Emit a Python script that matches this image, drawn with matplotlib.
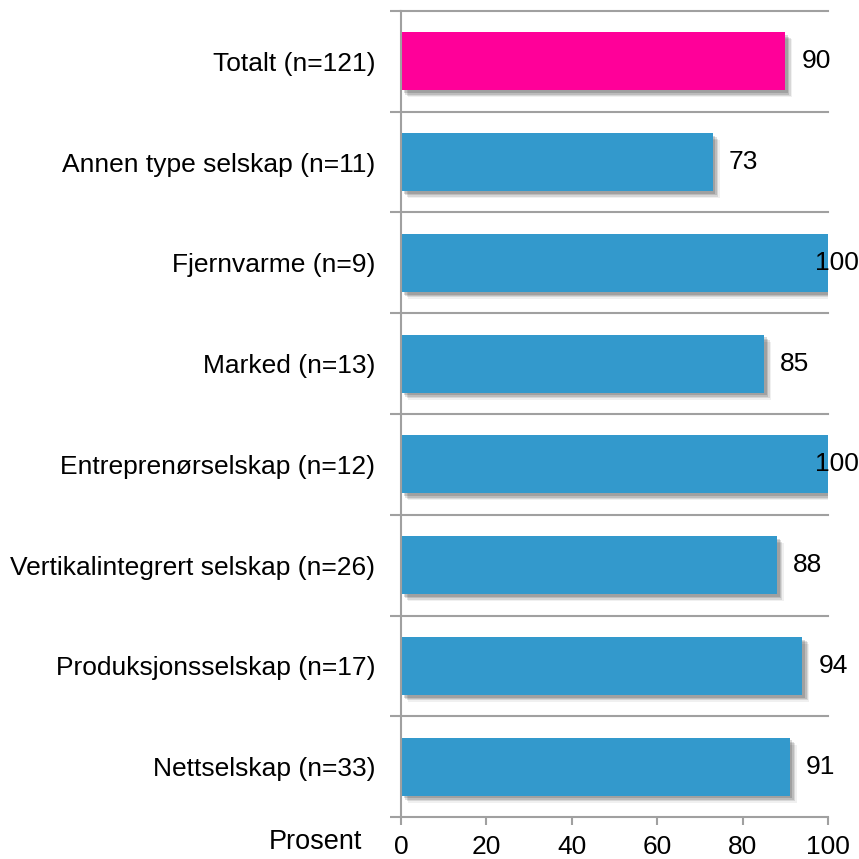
import matplotlib
matplotlib.use("Agg")
import matplotlib.pyplot as plt
import matplotlib.patheffects as pe
import numpy as np

categories = [
    "Totalt (n=121)",
    "Annen type selskap (n=11)",
    "Fjernvarme (n=9)",
    "Marked (n=13)",
    "Entreprenørselskap (n=12)",
    "Vertikalintegrert selskap (n=26)",
    "Produksjonsselskap (n=17)",
    "Nettselskap (n=33)",
]
values = [90, 73, 100, 85, 100, 88, 94, 91]
xticks = [0, 20, 40, 60, 80, 100]
axis_label = "Prosent"

pink = "#FF0099"
blue = "#3399CC"
gray = "#A0A0A0"

plt.rcParams['font.family'] = ['Liberation Sans', 'DejaVu Sans']

fig = plt.figure(figsize=(8.59, 8.59), dpi=100)
W = H = 859
ax = fig.add_axes([401 / W, 1 - 817 / H, (828 - 401) / W, (817 - 11) / H])

n = len(categories)
ypos = np.arange(n)[::-1]  # first category on top
colors = [pink] + [blue] * (n - 1)

shadow = [pe.SimplePatchShadow(offset=(5, -5), shadow_rgbFace="#000000", alpha=0.06),
          pe.SimplePatchShadow(offset=(4, -4), shadow_rgbFace="#000000", alpha=0.10),
          pe.SimplePatchShadow(offset=(3, -3), shadow_rgbFace="#000000", alpha=0.12),
          pe.SimplePatchShadow(offset=(2, -2), shadow_rgbFace="#000000", alpha=0.15),
          pe.Normal()]
bars = ax.barh(ypos, values, height=0.575, color=colors, zorder=3)
for b in bars:
    b.set_path_effects(shadow)

ax.set_xlim(0, 100)
ax.set_ylim(-0.5, n - 0.5)

# horizontal grid lines at category boundaries
bounds = np.arange(n + 1) - 0.5
for yb in bounds[1:]:
    ax.axhline(yb, color=gray, lw=1.5, zorder=1, clip_on=False)

for sp in ["top", "right"]:
    ax.spines[sp].set_visible(False)
for sp in ["left", "bottom"]:
    ax.spines[sp].set_color(gray)
    ax.spines[sp].set_linewidth(1.5)
    ax.spines[sp].set_zorder(4)

ax.set_yticks(ypos)
ax.set_yticklabels(categories, fontsize=19)
ax.tick_params(axis='y', which='major', length=0, pad=18.5)
ax.set_yticks(bounds, minor=True)
ax.tick_params(axis='y', which='minor', length=8, width=1.5, color=gray, direction='out')

ax.set_xticks(xticks)
ax.set_xticklabels([str(t) for t in xticks], fontsize=19)
ax.tick_params(axis='x', length=6, width=1.5, color=gray, direction='out', pad=7)

fig.text(362 / W, 1 - 842 / H, axis_label, fontsize=19.5, ha='right', va='center')

for y, v in zip(ypos, values):
    if v >= 97:
        ax.annotate(str(v), xy=(v, y), xytext=(-9.5, 0), textcoords='offset points',
                    ha='left', va='center', fontsize=19, zorder=5, annotation_clip=False)
    else:
        ax.annotate(str(v), xy=(v, y), xytext=(11.5, 0), textcoords='offset points',
                    ha='left', va='center', fontsize=19, zorder=5)

fig.savefig("out.png", dpi=100)
